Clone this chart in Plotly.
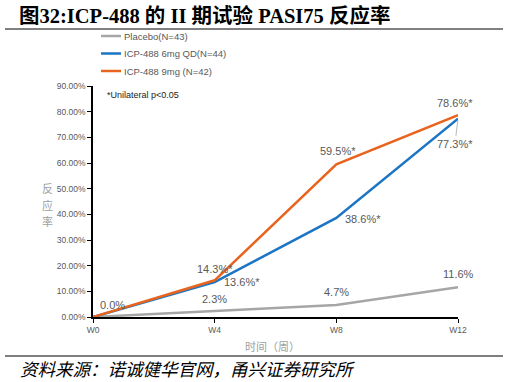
import plotly.graph_objects as go

weeks = ["W0", "W4", "W8", "W12"]
placebo = [0.0, 2.3, 4.7, 11.6]
qd6 = [0.0, 13.6, 38.6, 77.3]
mg9 = [0.0, 14.3, 59.5, 78.6]
names = ["Placebo(N=43)", "ICP-488 6mg QD(N=44)", "ICP-488 9mg (N=42)"]
yticks = [0, 10, 20, 30, 40, 50, 60, 70, 80, 90]

colors = ["#A6A6A6", "#1C75C4", "#E8641E"]
xs = list(range(len(weeks)))

W, H = 509, 382
L, R, T, B = 93, 51, 86, 65
def px(x):
    return (x - L) / (W - L - R)
def py(y):
    return (H - B - y) / (H - T - B)

fig = go.Figure()
for vals, name, c in zip([placebo, qd6, mg9], names, colors):
    fig.add_trace(go.Scatter(x=xs, y=[v / 100 for v in vals], name=name, mode="lines",
                             line=dict(color=c, width=2.5), showlegend=False, hoverinfo="skip"))

# custom legend
for k, (name, c) in enumerate(zip(names, colors)):
    yy = [36, 53.5, 71][k]
    fig.add_shape(type="line", xref="paper", yref="paper", x0=px(101), x1=px(121),
                  y0=py(yy), y1=py(yy), line=dict(color=c, width=2.5))
    fig.add_annotation(xref="paper", yref="paper", x=px(122), y=py(yy), xanchor="left",
                       yanchor="middle", text=name, showarrow=False,
                       font=dict(family="Liberation Sans, Arial", size=9.5, color="#595959"))

lab_font = dict(family="Liberation Sans, Arial", size=11, color="#595959")
# (series, index, text, dx, dy)
labels = [
    (mg9, 0, "0.0%", 19, -12),
    (placebo, 1, "2.3%", 0, -12),
    (mg9, 1, "14.3%*", 0, -11),
    (qd6, 1, "13.6%*", 27, 0),
    (mg9, 2, "59.5%*", 2, -13),
    (qd6, 2, "38.6%*", 27, 1),
    (mg9, 3, "78.6%*", -3, -12),
    (placebo, 2, "4.7%", 0, -13),
    (placebo, 3, "11.6%", 0, -13),
]
for s, i, t, dx, dy in labels:
    fig.add_annotation(x=xs[i], y=s[i] / 100, text=t, showarrow=False,
                       xshift=dx, yshift=-dy, font=lab_font)
# 77.3% with leader line
fig.add_annotation(x=xs[3], y=qd6[3] / 100, text="77.3%*", showarrow=True,
                   arrowhead=0, arrowwidth=0.8, arrowcolor="#A6A6A6",
                   ax=-3, ay=25, font=lab_font, standoff=2)

fig.add_annotation(xref="paper", yref="paper", x=px(105), y=py(95), xanchor="left", yanchor="middle",
                   text="*Unilateral p<0.05", showarrow=False,
                   font=dict(family="Liberation Sans, Arial", size=9, color="#222222"))

# y title, one character per line
for ch, yy in zip("反应率", [188, 205, 221]):
    fig.add_annotation(xref="paper", yref="paper", x=px(40), y=py(yy), yanchor="middle",
                       text=ch, showarrow=False,
                       font=dict(family="Noto Sans CJK SC", size=11, color="#A0A0A0"))
# x title
fig.add_annotation(xref="paper", yref="paper", x=px(272), y=py(346), yanchor="middle",
                   text="时间（周）", showarrow=False,
                   font=dict(family="Noto Sans CJK SC", size=11, color="#A0A0A0"))

# title and source
fig.add_annotation(xref="paper", yref="paper", x=px(17), y=py(15), xanchor="left", yanchor="middle",
                   text="<b>图32:ICP-488 的 II 期试验 PASI75 反应率</b>", showarrow=False,
                   font=dict(family="Liberation Serif, Noto Sans CJK SC", size=20.5, color="#000000"))
fig.add_annotation(xref="paper", yref="paper", x=px(18), y=py(368), xanchor="left", yanchor="middle",
                   text="<i>资料来源：诺诚健华官网，甬兴证券研究所</i>", showarrow=False,
                   font=dict(family="Noto Sans CJK SC", size=17.5, color="#000000"))

fig.add_shape(type="line", xref="paper", yref="paper", x0=px(5), x1=px(503), y0=py(29), y1=py(29),
              line=dict(color="#000000", width=1))
fig.add_shape(type="line", xref="paper", yref="paper", x0=px(5), x1=px(503), y0=py(356), y1=py(356),
              line=dict(color="#7F7F7F", width=2))

tickfont = dict(family="Liberation Sans, Arial", size=8.5, color="#595959")
fig.update_layout(
    width=W, height=H,
    margin=dict(l=L, r=R, t=T, b=B),
    paper_bgcolor="white", plot_bgcolor="white",
    showlegend=False,
    xaxis=dict(range=[0, 3], tickvals=xs, ticktext=weeks, showgrid=False, zeroline=False,
               showline=True, linecolor="#000000", linewidth=1.5, ticks="outside", ticklen=4,
               tickcolor="#000000", tickfont=tickfont),
    yaxis=dict(range=[0, 0.9], tickvals=[v / 100 for v in yticks], tickformat=".2%", showgrid=False,
               zeroline=False, showline=True, linecolor="#000000", linewidth=1.5, ticks="outside",
               ticklen=4, tickcolor="#000000", tickfont=tickfont),
)

fig.write_html("out.html", config={"displayModeBar": False},
               post_script="document.body.style.margin='0';document.body.style.overflow='hidden';")
